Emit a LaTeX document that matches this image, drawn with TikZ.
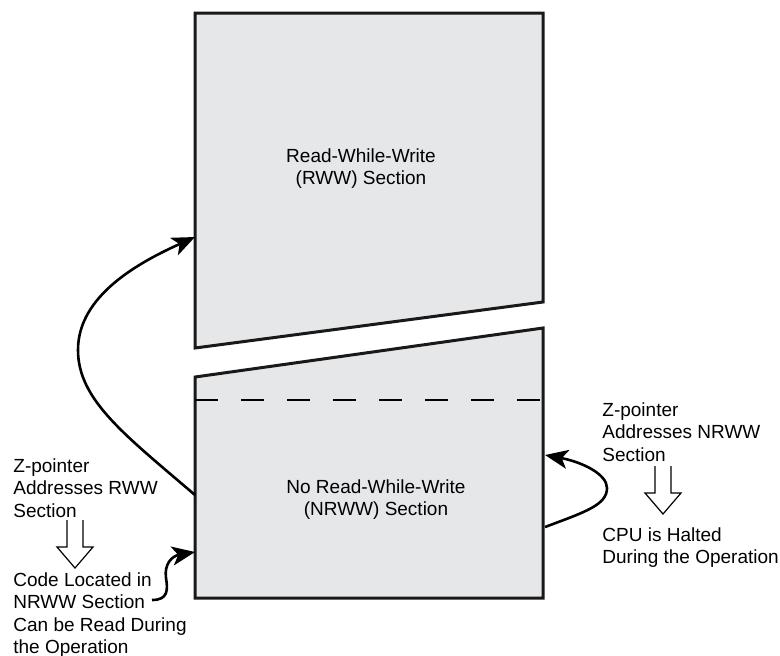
\documentclass[tikz,border=0pt]{standalone}
\usepackage{fontspec}
\setmainfont{Liberation Sans}
\usetikzlibrary{arrows.meta}
\definecolor{secfill}{RGB}{230,231,233}
\begin{document}
\begin{tikzpicture}[
        x=0.5pt, y=-0.5pt,
        every node/.style={inner sep=0pt, font=\fontsize{9.5}{11.25}\selectfont},
        section/.style={draw=black!90, fill=secfill, line width=1.5pt, line join=miter},
        label/.style={align=left, anchor=north west},
        arrow/.style={line width=1.3pt, -{Stealth[length=11.5pt, width=9.5pt, inset=3pt]}},
        hollow/.style={line width=0.6pt}
    ]
        \useasboundingbox (0,0) rectangle (780,655);

        % the two sections of the flash
        \draw[section] (195,13) -- (543,13) -- (543,302) -- (195,348) -- cycle;
        \draw[section] (195,377) -- (543,328) -- (543,598) -- (195,598) -- cycle;
        \draw[line width=1.3pt, dash pattern=on 11.5pt off 11.5pt] (195,400) -- (543,400);

        \node (rww) [anchor=north, align=center] at (361,148) {Read-While-Write\\(RWW) Section};
        \node (nrww) [anchor=north, align=center] at (376,479) {No Read-While-Write\\(NRWW) Section};

        \node (zrww) [label] at (13,458) {Z-pointer\\Addresses RWW\\Section};
        \node (coderead) [label] at (13,572) {Code Located in\\NRWW Section\\Can be Read During\\the Operation};
        \node (znrww) [label] at (602,402) {Z-pointer\\Addresses NRWW\\Section};
        \node (halted) [label] at (602,527) {CPU is Halted\\During the Operation};

        \coordinate (rwwout) at (195,495);
        \coordinate (rwwin) at (195,237);
        \coordinate (codeout) at (152,600);
        \coordinate (codein) at (195,552);
        \coordinate (nrwwout) at (545,527);
        \coordinate (nrwwin) at (545,455);

        \draw[arrow] (rwwout) .. controls (125,435) and (78,400) .. (78,350)
            .. controls (78,295) and (140,262) .. (rwwin);
        \draw[arrow] (codeout) .. controls (168,600) and (168,590) .. (166,578)
            .. controls (164,564) and (172,556) .. (codein);
        \draw[arrow] (nrwwout) .. controls (585,512) and (607,505) .. (607,488)
            .. controls (607,474) and (582,462) .. (nrwwin);

        % open down arrows
        \draw[hollow] (67,520) -- (67,547) -- (57,547) -- (75,568) -- (93,547) -- (83,547) -- (83,520);
        \draw[hollow] (655,466) -- (655,493) -- (645,493) -- (663,514) -- (681,493) -- (671,493) -- (671,466);
    \end{tikzpicture}
\end{document}
